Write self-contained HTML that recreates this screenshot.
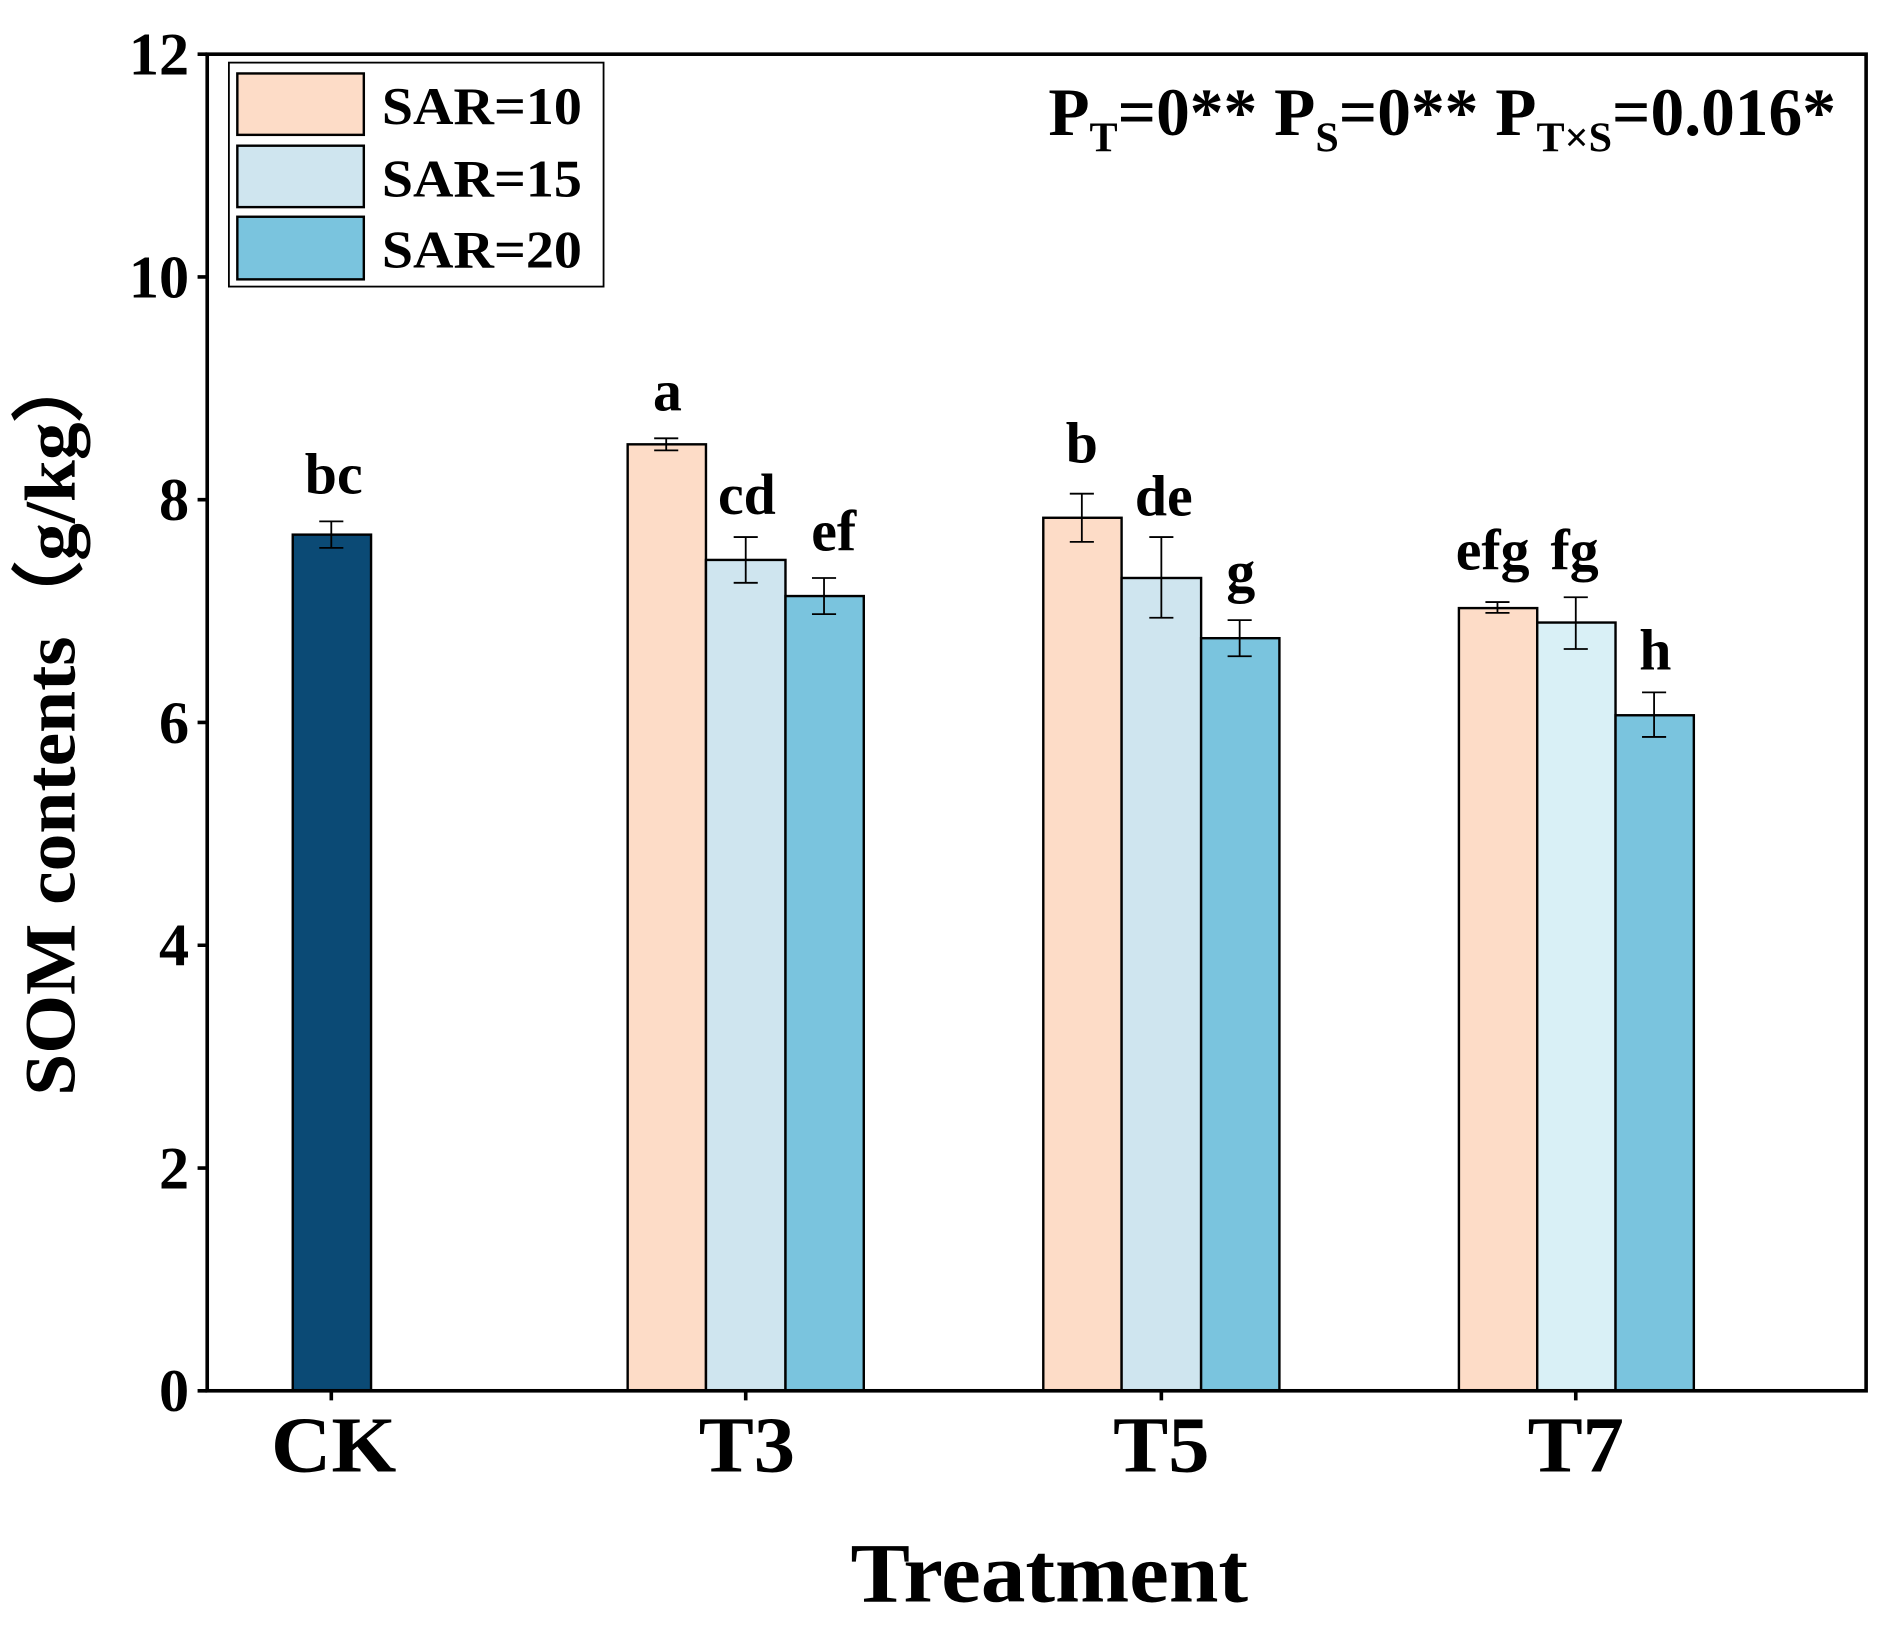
<!DOCTYPE html>
<html><head><meta charset="utf-8"><style>
html,body{margin:0;padding:0;background:#fff}
svg{display:block}
text{font-family:"Liberation Serif",serif;font-weight:bold;fill:#000}
</style></head><body>
<svg width="1889" height="1628" viewBox="0 0 1568 1352" preserveAspectRatio="none">
<rect x="0" y="0" width="1568" height="1352" fill="#fff"/>
<g stroke="#000" stroke-width="2">
<rect x="243" y="444" width="65" height="711" fill="#0b4a75"/>
<rect x="521" y="369" width="65" height="786" fill="#fddcc7"/>
<rect x="586" y="465" width="66" height="690" fill="#cfe5ef"/>
<rect x="652" y="495" width="65" height="660" fill="#7ac4de"/>
<rect x="866" y="430" width="65" height="725" fill="#fddcc7"/>
<rect x="931" y="480" width="66" height="675" fill="#cfe5ef"/>
<rect x="997" y="530" width="65" height="625" fill="#7ac4de"/>
<rect x="1211" y="505" width="65" height="650" fill="#fddcc7"/>
<rect x="1276" y="517" width="65" height="638" fill="#d9f0f6"/>
<rect x="1341" y="594" width="65" height="561" fill="#7ac4de"/>
</g>
<g stroke="#000" stroke-width="1.5" fill="none">
<path d="M275 433V455M265 433H285M265 455H285"/>
<path d="M553 364V374M543 364H563M543 374H563"/>
<path d="M619 446V484M609 446H629M609 484H629"/>
<path d="M684 480V510M674 480H694M674 510H694"/>
<path d="M898 410V450M888 410H908M888 450H908"/>
<path d="M964 446V513M954 446H974M954 513H974"/>
<path d="M1029 515V545M1019 515H1039M1019 545H1039"/>
<path d="M1243 500V509M1233 500H1253M1233 509H1253"/>
<path d="M1308 496V539M1298 496H1318M1298 539H1318"/>
<path d="M1373 575V612M1363 575H1383M1363 612H1383"/>
</g>
<rect x="172" y="45" width="1377" height="1110" fill="none" stroke="#000" stroke-width="3"/>
<g stroke="#000" stroke-width="3">
<path d="M164 1155H172M164 970H172M164 785H172M164 600H172M164 415H172M164 230H172M164 45H172"/>
<path d="M275 1155V1163M619 1155V1163M964 1155V1163M1308 1155V1163"/>
</g>
<g font-size="50" text-anchor="end">
<text x="157" y="1172">0</text><text x="157" y="987">2</text><text x="157" y="802">4</text>
<text x="157" y="617">6</text><text x="157" y="432">8</text><text x="157" y="247">10</text><text x="157" y="62">12</text>
</g>
<g font-size="66">
<text x="225" y="1222" textLength="104" lengthAdjust="spacingAndGlyphs">CK</text>
<text x="580" y="1222" textLength="80" lengthAdjust="spacingAndGlyphs">T3</text>
<text x="924" y="1222" textLength="80" lengthAdjust="spacingAndGlyphs">T5</text>
<text x="1268" y="1222" textLength="80" lengthAdjust="spacingAndGlyphs">T7</text>
</g>
<text x="706" y="1330" font-size="70" textLength="330" lengthAdjust="spacingAndGlyphs">Treatment</text>
<text transform="translate(62,910) rotate(-90)" font-size="60" textLength="622" lengthAdjust="spacingAndGlyphs">SOM contents（g/kg）</text>
<g font-size="48" text-anchor="middle">
<text x="277" y="410">bc</text><text x="554" y="341">a</text><text x="620" y="427">cd</text>
<text x="692" y="457">ef</text><text x="898" y="384">b</text><text x="966" y="428">de</text>
<text x="1030" y="491">g</text><text x="1239" y="473">efg</text><text x="1307" y="473">fg</text>
<text x="1374" y="556">h</text>
</g>
<rect x="190" y="52" width="311" height="186" fill="#fff" stroke="#000" stroke-width="1.5"/>
<g stroke="#000" stroke-width="2">
<rect x="197" y="61" width="105" height="51" fill="#fddcc7"/>
<rect x="197" y="121" width="105" height="51" fill="#cfe5ef"/>
<rect x="197" y="180" width="105" height="52" fill="#7ac4de"/>
</g>
<g font-size="44">
<text x="317" y="103" textLength="166" lengthAdjust="spacingAndGlyphs">SAR=10</text>
<text x="317" y="163" textLength="166" lengthAdjust="spacingAndGlyphs">SAR=15</text>
<text x="317" y="222" textLength="166" lengthAdjust="spacingAndGlyphs">SAR=20</text>
</g>
<text x="1524" y="112" font-size="56" text-anchor="end">P<tspan font-size="35" dy="14">T</tspan><tspan dy="-14">=0** P</tspan><tspan font-size="35" dy="14">S</tspan><tspan dy="-14">=0** P</tspan><tspan font-size="35" dy="14">T×S</tspan><tspan dy="-14">=0.016*</tspan></text>
</svg>
</body></html>
